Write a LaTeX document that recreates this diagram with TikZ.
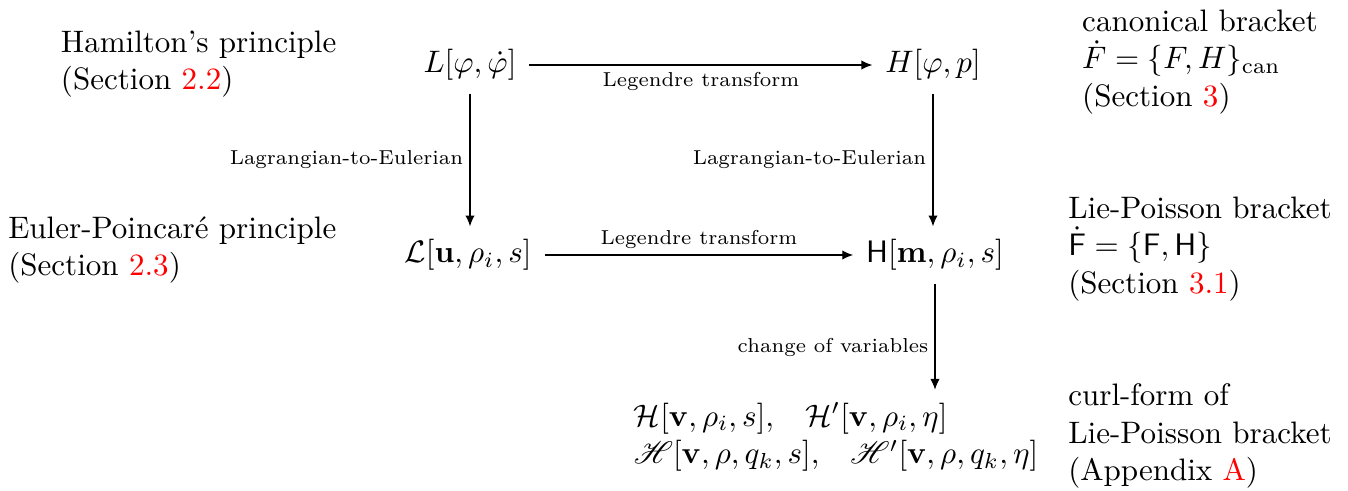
\documentclass[tikz,border=0pt]{standalone}
\usepackage{amsmath,amssymb}
\usepackage{mathrsfs}
\usepackage{xcolor}
\usetikzlibrary{arrows.meta,positioning,calc}

\begin{document}
\begin{tikzpicture}[
  x=0.3221pt, y=-0.3221pt,
  term/.style={inner sep=4pt},
  lbl/.style={font=\fontsize{6.5}{8}\selectfont, inner sep=2pt},
  note/.style={align=left, inner sep=0pt},
  arr/.style={-{Latex[length=3.5pt,width=3pt]}}
]
\useasboundingbox (0,0) rectangle (1348,491);

% the four functionals and the curl-form Hamiltonians
\node[term] (L) at (470,65) {$L[\varphi,\dot{\varphi}]$};
\node[term] (H) at (933,65) {$H[\varphi,p]$};
\node[term] (Lcal) at (468,255) {$\mathcal{L}[\mathbf{u},\rho_i,s]$};
\node[term] (Hm) at (935,255) {$\mathsf{H}[\mathbf{m},\rho_i,s]$};
\node[term, align=left] (curl) at (836,437)
  {$\mathcal{H}[\mathbf{v},\rho_i,s],\;\;\; \mathcal{H}'[\mathbf{v},\rho_i,\eta]$\\
   $\mathscr{H}[\mathbf{v},\rho,q_k,s],\;\;\; \mathscr{H}'[\mathbf{v},\rho,q_k,\eta]$};

% side notes
\node[note, anchor=east] (ham) at (337,64) {Hamilton's principle\\(Section \textcolor{red}{2.2})};
\node[note, anchor=east] (ep) at (337,250) {Euler-Poincar\'e principle\\(Section \textcolor{red}{2.3})};
\node[note] (can) at (1200,62) {canonical bracket\\$\dot{F}=\{F,H\}_{\mathrm{can}}$\\(Section \textcolor{red}{3})};
\node[note] (lp) at (1200,249) {Lie-Poisson bracket\\$\dot{\mathsf{F}}=\{\mathsf{F},\mathsf{H}\}$\\(Section \textcolor{red}{3.1})};
\node[note] (cf) at (1200,436) {curl-form of\\Lie-Poisson bracket\\(Appendix \textcolor{red}{A})};

\draw[arr] (L) -- (H) node[lbl, midway, below] {Legendre transform};
\draw[arr] (Lcal) -- (Hm) node[lbl, midway, above] {Legendre transform};
\draw[arr] (L) -- (L |- Lcal.north) node[lbl, midway, left] {Lagrangian-to-Eulerian};
\draw[arr] (H) -- (H |- Hm.north) node[lbl, midway, left] {Lagrangian-to-Eulerian};
\draw[arr] (Hm) -- (Hm |- curl.north) node[lbl, pos=0.6, left] {change of variables};
\end{tikzpicture}
\end{document}
